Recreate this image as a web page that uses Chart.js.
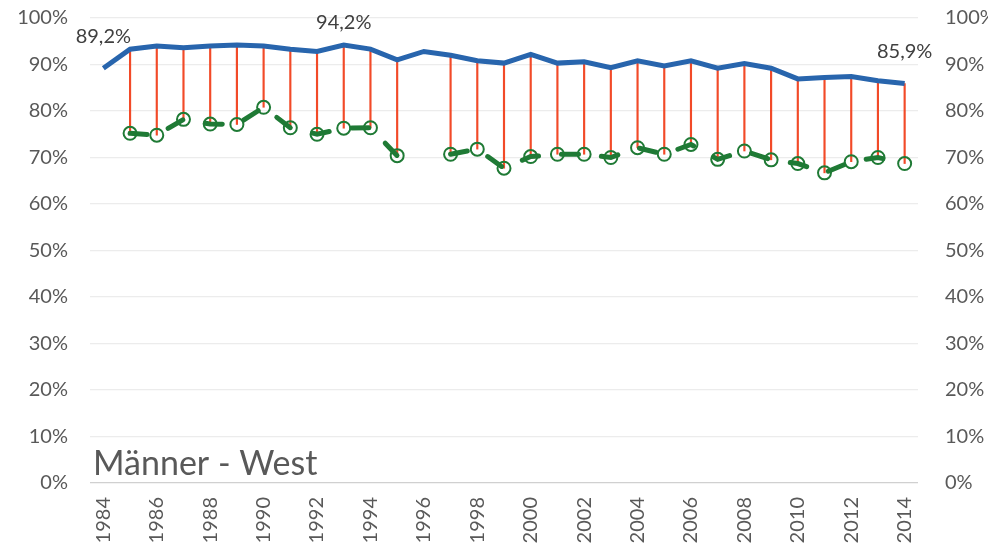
<!DOCTYPE html>
<html>
<head>
<meta charset="utf-8">
<script src="https://cdn.jsdelivr.net/npm/chart.js@4/dist/chart.umd.min.js"></script>
<style>
    html, body { margin: 0; padding: 0; background: #fff; overflow: hidden; }
    #wrap { width: 1000px; height: 550px; }
</style>
</head>
<body>
<div id="wrap"><canvas id="chartMaenner"></canvas></div>
<script>
// Jahre
var jahre = ['1984','1985','1986','1987','1988','1989','1990','1991','1992','1993',
             '1994','1995','1996','1997','1998','1999','2000','2001','2002','2003',
             '2004','2005','2006','2007','2008','2009','2010','2011','2012','2013','2014'];

// blaue Linie
var quoteBlau = [89.2, 93.3, 94.0, 93.6, 94.0, 94.2, 94.0, 93.3, 92.8, 94.2,
                 93.3, 91.0, 92.8, 92.0, 90.8, 90.3, 92.2, 90.3, 90.6, 89.3,
                 90.8, 89.7, 90.8, 89.2, 90.2, 89.2, 86.9, 87.2, 87.4, 86.5, 85.9];

// grüne Punkte (null = kein Wert)
var quoteGruen = [null, 75.2, 74.8, 78.2, 77.2, 77.1, 80.8, 76.4, 75.0, 76.3,
                  76.4, 70.4, null, 70.7, 71.8, 67.7, 70.2, 70.7, 70.7, 70.0,
                  72.1, 70.7, 72.8, 69.6, 71.4, 69.5, 68.7, 66.7, 69.1, 70.0, 68.7];

var yTicks = [0, 10, 20, 30, 40, 50, 60, 70, 80, 90, 100];
var beschriftet = [0, 9, 30];   // Indizes mit Datenbeschriftung
var titel = 'Männer - West';

// rote Verbindungslinien als schwebende Balken
var verbindung = quoteGruen.map(function (g, i) {
    return g === null ? null : [g, quoteBlau[i]];
});

var schrift = 'Lato, "Open Sans", sans-serif';
var grau = '#595959';

var pluginTexte = {
    id: 'texte',
    afterDatasetsDraw: function (chart) {
        var ctx = chart.ctx;
        var meta = chart.getDatasetMeta(0);
        ctx.save();
        ctx.font = '20px ' + schrift;
        ctx.fillStyle = '#404040';
        ctx.textAlign = 'center';
        ctx.textBaseline = 'middle';
        beschriftet.forEach(function (i) {
            var p = meta.data[i];
            var y = Math.max(p.y - 32, chart.chartArea.top + 5);
            ctx.fillText(quoteBlau[i].toFixed(1).replace('.', ',') + '%', p.x, y);
        });
        ctx.font = '34px ' + schrift;
        ctx.fillStyle = grau;
        ctx.textAlign = 'left';
        ctx.textBaseline = 'alphabetic';
        ctx.fillText(titel, chart.chartArea.left + 3, chart.chartArea.bottom - 8);
        ctx.restore();
    }
};

function ajustarX(ax) {
    ax.paddingLeft = 0;
    ax.paddingRight = 0;
    ax.height = 67;
}

function ajustarY(ax) {
    ax.paddingTop = 18;
    ax.paddingBottom = 0;
    ax.width = 72;
}

function ajustarY2(ax) {
    ax.paddingTop = 18;
    ax.paddingBottom = 0;
    ax.width = 77;
}

function criarGrafico() {
    var dados = {
        labels: jahre,
        datasets: [{
            type: 'line',
            label: 'West',
            data: quoteBlau,
            borderColor: '#2865ad',
            borderWidth: 5,
            pointRadius: 0,
            tension: 0,
            order: 0,
            yAxisID: 'y'
        }, {
            type: 'line',
            label: 'Gruen',
            data: quoteGruen,
            borderColor: '#1f7a35',
            borderWidth: 5,
            borderDash: [17, 23],
            borderCapStyle: 'round',
            spanGaps: false,
            pointRadius: 6.5,
            pointBorderWidth: 2,
            pointBorderColor: '#1f7a35',
            pointBackgroundColor: 'rgba(0,0,0,0)',
            tension: 0,
            order: 1,
            yAxisID: 'y'
        }, {
            type: 'bar',
            label: 'Abstand',
            data: verbindung,
            backgroundColor: '#f24a28',
            barThickness: 1.5,
            order: 2,
            yAxisID: 'y'
        }]
    };

    var config = {
        data: dados,
        options: {
            responsive: true,
            maintainAspectRatio: false,
            animation: { duration: 0 },
            layout: { padding: { left: 18, right: 5, top: 0, bottom: 0 } },
            plugins: {
                legend: { display: false },
                tooltip: { enabled: false }
            },
            scales: {
                x: {
                    offset: true,
                    afterFit: ajustarX,
                    grid: { display: false, drawTicks: false },
                    border: { display: false },
                    ticks: {
                        autoSkip: false,
                        maxRotation: 90,
                        minRotation: 90,
                        padding: 14,
                        color: grau,
                        font: { family: schrift, size: 20 },
                        callback: function (v, i) { return i % 2 === 0 ? jahre[i] : ''; }
                    }
                },
                y: {
                    position: 'left',
                    min: 0,
                    max: 100,
                    afterFit: ajustarY,
                    afterBuildTicks: function (ax) { ax.ticks = yTicks.map(function (v) { return { value: v }; }); },
                    grid: {
                        drawTicks: false,
                        color: function (c) { return c.tick.value === 0 ? '#d0d0d0' : '#ececec'; },
                        lineWidth: 1.3
                    },
                    border: { display: false },
                    ticks: {
                        padding: 22,
                        color: grau,
                        font: { family: schrift, size: 20 },
                        callback: function (v) { return v + '%'; }
                    }
                },
                y2: {
                    position: 'right',
                    min: 0,
                    max: 100,
                    afterFit: ajustarY2,
                    afterBuildTicks: function (ax) { ax.ticks = yTicks.map(function (v) { return { value: v }; }); },
                    grid: { display: false, drawTicks: false },
                    border: { display: false },
                    ticks: {
                        padding: 27,
                        color: grau,
                        font: { family: schrift, size: 20 },
                        callback: function (v) { return v + '%'; }
                    }
                }
            }
        },
        plugins: [pluginTexte]
    };

    new Chart(document.getElementById('chartMaenner'), config);
}

criarGrafico();
</script>
</body>
</html>
